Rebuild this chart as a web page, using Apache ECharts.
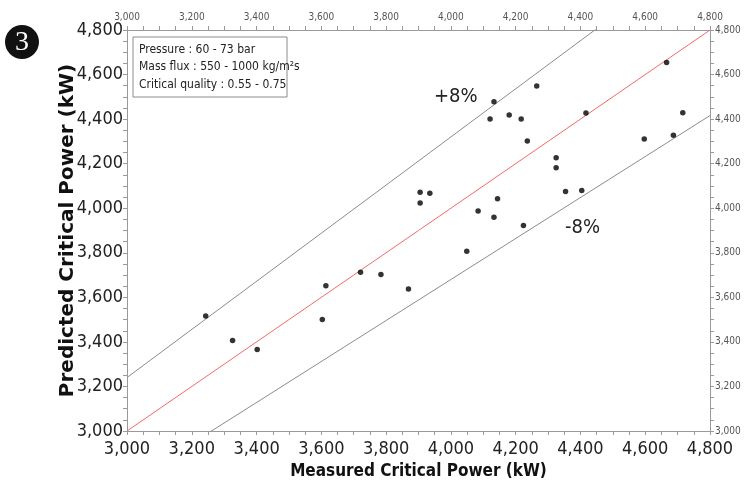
<!DOCTYPE html>
<html>
<head>
<meta charset="utf-8">
<script src="https://cdn.jsdelivr.net/npm/echarts@6/dist/echarts.min.js"></script>
<style>
  html, body { margin: 0; padding: 0; background: #fff; }
  #chart { width: 745px; height: 485px; }
</style>
</head>
<body>
<div id="chart"></div>
<script>
// axis range and ticks (kW)
var axisMin = 3000;
var axisMax = 4800;
var tickStep = 200;

// measured vs predicted critical power (kW)
var measured = [3243, 3326, 3402, 3603, 3614, 3721, 3784, 3869,
    3905, 3935, 3905, 4049, 4084, 4133, 4144, 4224,
    4121, 4133, 4180, 4217, 4236, 4265,
    4325, 4325, 4354, 4404, 4417,
    4597, 4666, 4687, 4716];
var predicted = [3516, 3406, 3366, 3501, 3652, 3713, 3703, 3637,
    4072, 4067, 4024, 3807, 3988, 3960, 4043, 3922,
    4400, 4478, 4418, 4400, 4302, 4549,
    4226, 4182, 4075, 4079, 4427,
    4311, 4654, 4327, 4428];

// error bands
var bands = [0.08, 0, -0.08];
var legendLines = [
    'Pressure : 60 - 73 bar',
    'Mass flux : 550 - 1000 kg/m²s',
    'Critical quality : 0.55 - 0.75'
];

(function () {
    var myChart = echarts.init(document.getElementById('chart'));

    var points = measured.map(function (m, i) { return [m, predicted[i]]; });

    function fmt(v) {
        return String(v).replace(/\B(?=(\d{3})+(?!\d))/g, ',');
    }

    var bigLabel = {
        color: '#222',
        fontFamily: 'DejaVu Sans Condensed',
        fontSize: 18,
        formatter: fmt
    };
    var smallLabel = {
        color: '#555',
        fontFamily: 'DejaVu Sans Condensed',
        fontSize: 10,
        formatter: fmt
    };

    function axis(pos, label, name) {
        var a = {
            type: 'value',
            position: pos,
            min: axisMin,
            max: axisMax,
            interval: tickStep,
            axisLine: { show: true, onZero: false, lineStyle: { color: '#9a9a9a' } },
            axisTick: { show: true, length: 4, lineStyle: { color: '#9a9a9a' } },
            minorTick: { show: true, splitNumber: 4, length: 4, lineStyle: { color: '#9a9a9a' } },
            splitLine: { show: false },
            axisLabel: label
        };
        if (name) {
            a.name = name;
            a.nameLocation = 'middle';
            a.nameMoveOverlap = false;
            a.nameTextStyle = {
                color: '#111',
                fontWeight: 'bold',
                fontFamily: 'DejaVu Sans',
                fontSize: 17
            };
        }
        return a;
    }

    var xA = axis('bottom', Object.assign({ margin: 9 }, bigLabel), 'Measured Critical Power (kW)');
    xA.nameGap = 32;
    xA.nameTextStyle.fontFamily = 'DejaVu Sans Condensed';
    var xTop = axis('top', Object.assign({ margin: 8 }, smallLabel));
    var yA = axis('left', Object.assign({ margin: 4 }, bigLabel), 'Predicted Critical Power (kW)');
    yA.nameGap = 49;
    yA.nameTextStyle.fontSize = 20;
    var yRight = axis('right', Object.assign({ margin: 5 }, smallLabel));

    var bandSeries = bands.map(function (p) {
        return {
            type: 'line',
            xAxisIndex: 0,
            yAxisIndex: 0,
            data: [axisMin, axisMax].map(function (x) { return [x, x * (1 + p)]; }),
            symbol: 'none',
            clip: true,
            silent: true,
            z: 1,
            lineStyle: { color: p === 0 ? '#f06a6a' : '#8c8c8c', width: 1 }
        };
    });

    var option = {
        animation: false,
        grid: { left: 127, right: 35, top: 30, bottom: 53 },
        xAxis: [xA, xTop],
        yAxis: [yA, yRight],
        graphic: [
            { type: 'circle', shape: { cx: 22, cy: 42, r: 17 }, style: { fill: '#111' } },
            { type: 'text', x: 22, y: 43, style: { text: '3', fill: '#fff', font: '28px "Liberation Serif"', align: 'center', verticalAlign: 'middle' } },
            { type: 'rect', shape: { x: 133, y: 37, width: 154, height: 60 }, style: { fill: '#fff', stroke: '#8c8c8c', lineWidth: 1 }, z: 5 },
            { type: 'text', x: 139, y: 41, z: 6, style: { text: legendLines.join('\n'), fill: '#222', font: '12px "DejaVu Sans Condensed"', lineHeight: 17.5 } },
            { type: 'text', x: 434, y: 97, style: { text: '+8%', fill: '#222', font: '20px "DejaVu Sans Condensed"', verticalAlign: 'middle' } },
            { type: 'text', x: 565, y: 228, style: { text: '-8%', fill: '#222', font: '20px "DejaVu Sans Condensed"', verticalAlign: 'middle' } }
        ],
        series: bandSeries.concat([{
            type: 'scatter',
            xAxisIndex: 0,
            yAxisIndex: 0,
            data: points,
            symbolSize: 5.5,
            z: 3,
            itemStyle: { color: '#000' }
        }])
    };
    myChart.setOption(option);
})();
</script>
</body>
</html>
